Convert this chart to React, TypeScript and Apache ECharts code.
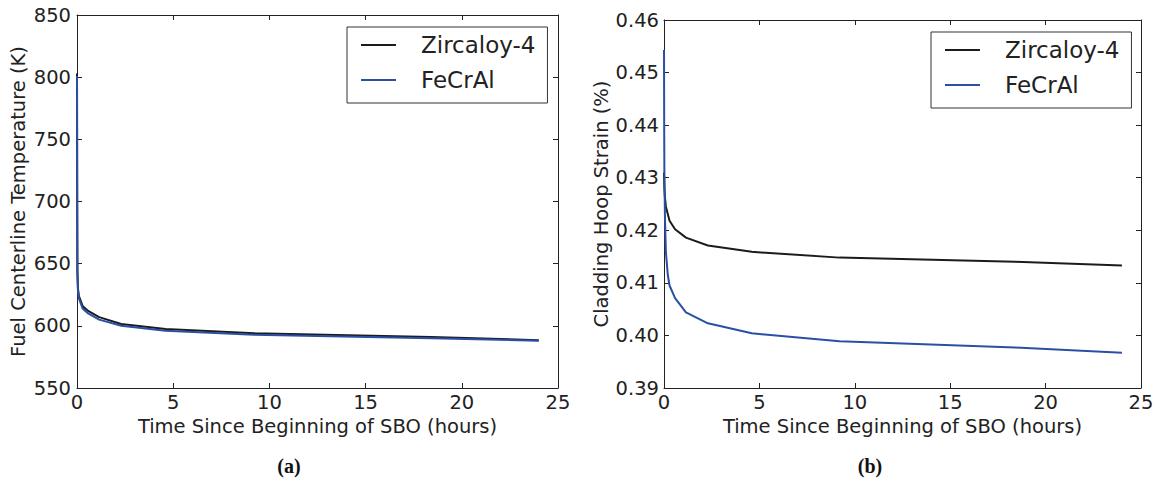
import React, { useEffect, useRef } from "react";
import * as echarts from "echarts";

const seriesNames = ["Zircaloy-4", "FeCrAl"];

// Panel (a): fuel centerline temperature (K) vs time (hours)
const tempTime = [0, 0.01, 0.02, 0.05, 0.1, 0.29, 0.58, 1.15, 2.3, 4.6, 9.2, 18.4, 24];
const tempZirc = [803, 700, 645, 630, 624, 616, 612, 607, 601.5, 597.5, 594, 591, 588.5];
const tempFeCrAl = [801, 698, 642, 628, 622, 614, 610, 605, 600, 596, 592.8, 590, 588];

// Panel (b): cladding hoop strain (%) vs time (hours)
const strainTimeZirc = [0, 0.02, 0.05, 0.1, 0.29, 0.58, 1.15, 2.3, 4.6, 9.2, 18.4, 24];
const strainZirc = [0.431, 0.428, 0.4262, 0.4245, 0.4218, 0.4202, 0.4186, 0.4171, 0.4159, 0.4148, 0.414, 0.4133];
const strainTimeFe = [0, 0.01, 0.02, 0.05, 0.1, 0.2, 0.29, 0.58, 1.15, 2.3, 4.6, 9.2, 18.4, 24];
const strainFe = [0.4543, 0.44, 0.431, 0.4225, 0.4158, 0.4115, 0.4095, 0.4071, 0.4044, 0.4023, 0.4004, 0.3989, 0.3977, 0.3967];

const xTicks = { min: 0, max: 25, interval: 5 };
const tempTicks = { min: 550, max: 850, interval: 50 };
const strainTicks = { min: 0.39, max: 0.46, interval: 0.01 };

const zip = (xs: number[], ys: number[]) => xs.map((x, i) => [x, ys[i]]);

const FONT = "DejaVu Sans";
const FS = 19.5;
const TXT = "#222";
const LINE = "#222";
const BLACK = "#1b1b1b";
const BLUE = "#2b4fa5";

export default function App() {
  const ref = useRef<HTMLDivElement>(null);
  useEffect(() => {
    if (!ref.current) return;
    const chart = echarts.init(ref.current, undefined, { renderer: "svg" });

    const baseAxis = (extra: any) => ({
      type: "value",
      axisLine: { show: true, onZero: false, lineStyle: { color: LINE, width: 1 } },
      axisTick: { show: true, inside: true, length: 5, lineStyle: { color: LINE } },
      splitLine: { show: false },
      axisLabel: { color: TXT, fontFamily: FONT, fontSize: FS },
      nameTextStyle: { color: TXT, fontFamily: FONT, fontSize: FS },
      ...extra,
    });

    const xMain = (grid: number) =>
      baseAxis({
        gridIndex: grid,
        position: "bottom",
        ...xTicks,
        name: "Time Since Beginning of SBO (hours)",
        nameLocation: "middle",
        nameGap: 27,
        axisLabel: { color: TXT, fontFamily: FONT, fontSize: FS, margin: 4 },
      });
    const xTop = (grid: number) =>
      baseAxis({ gridIndex: grid, position: "top", ...xTicks, axisLabel: { show: false } });

    const legend = (left: number, top: number) => ({
      left,
      top,
      orient: "vertical",
      data: seriesNames,
      icon: "rect",
      itemWidth: 35,
      itemHeight: 2,
      itemGap: 9,
      padding: [5, 12, 10, 14],
      borderColor: "#333",
      borderWidth: 1,
      backgroundColor: "#fff",
      selectedMode: false,
      textStyle: {
        color: TXT,
        fontFamily: FONT,
        fontSize: 23,
        lineHeight: 26,
        padding: [0, 0, 0, 20],
      },
    });

    const line = (name: string, color: string, x: number, y: number, data: number[][]) => ({
      type: "line",
      name,
      xAxisIndex: x,
      yAxisIndex: y,
      data,
      symbol: "none",
      color,
      lineStyle: { color, width: 2 },
    });

    const caption = (x: number, text: string) => ({
      type: "text",
      x,
      y: 466,
      style: {
        text,
        fontFamily: "Liberation Serif",
        fontWeight: "bold",
        fontSize: 20,
        fill: "#111",
        align: "center",
        verticalAlign: "middle",
      },
    });

    chart.setOption({
      animation: false,
      backgroundColor: "#fff",
      grid: [
        { left: 77, top: 15, width: 481, height: 373 },
        { left: 664, top: 20, width: 477, height: 368 },
      ],
      xAxis: [xMain(0), xTop(0), xMain(1), xTop(1)],
      yAxis: [
        baseAxis({
          gridIndex: 0,
          position: "left",
          ...tempTicks,
          name: "Fuel Centerline Temperature (K)",
          nameLocation: "middle",
          nameGap: 49,
          axisLabel: { color: TXT, fontFamily: FONT, fontSize: FS, margin: 6 },
        }),
        baseAxis({ gridIndex: 0, position: "right", ...tempTicks, axisLabel: { show: false } }),
        baseAxis({
          gridIndex: 1,
          position: "left",
          ...strainTicks,
          name: "Cladding Hoop Strain (%)",
          nameLocation: "middle",
          nameGap: 52,
          axisLabel: {
            color: TXT,
            fontFamily: FONT,
            fontSize: FS,
            margin: 5,
            formatter: (v: number) => v.toFixed(2),
          },
        }),
        baseAxis({ gridIndex: 1, position: "right", ...strainTicks, axisLabel: { show: false } }),
      ],
      legend: [legend(347, 27), legend(931, 32)],
      series: [
        line(seriesNames[0], BLACK, 0, 0, zip(tempTime, tempZirc)),
        line(seriesNames[1], BLUE, 0, 0, zip(tempTime, tempFeCrAl)),
        line(seriesNames[0], BLACK, 2, 2, zip(strainTimeZirc, strainZirc)),
        line(seriesNames[1], BLUE, 2, 2, zip(strainTimeFe, strainFe)),
      ],
      graphic: [caption(289, "(a)"), caption(870, "(b)")],
    });
    return () => chart.dispose();
  }, []);
  return (
    <div
      ref={ref}
      style={{ position: "fixed", left: 0, top: 0, width: 1158, height: 482, background: "#fff" }}
    />
  );
}
